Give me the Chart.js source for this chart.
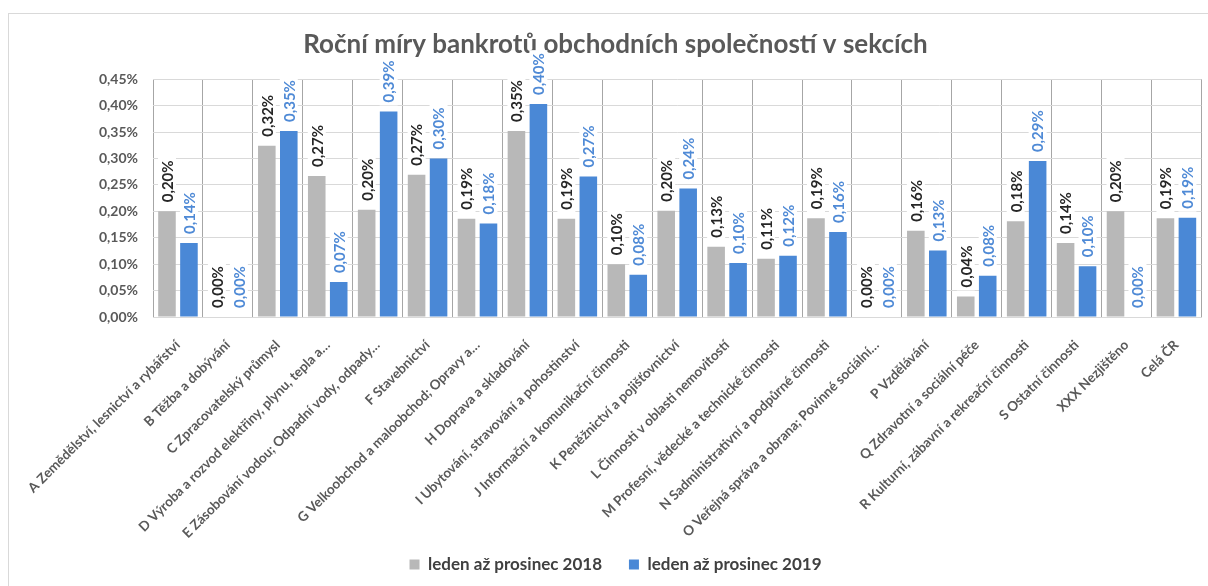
<!DOCTYPE html>
<html>
<head>
<meta charset="utf-8">
<script src="https://cdn.jsdelivr.net/npm/chart.js@4"></script>
<style>
  html, body { margin: 0; padding: 0; background: #fff; overflow: hidden; }
  #frame { position: absolute; left: 8px; top: 13px; width: 1400px; height: 800px; border: 1px solid #d9d9d9; }
  #wrap { position: absolute; left: 0; top: 0; width: 1208px; height: 586px; }
</style>
</head>
<body>
<div id="frame"></div>
<div id="wrap"><canvas id="chartCanvas"></canvas></div>
<script>
// sekce CZ-NACE
var sections = [
  'A Zemědělství, lesnictví a rybářství',
  'B Těžba a dobývání',
  'C Zpracovatelský průmysl',
  'D Výroba a rozvod elektřiny, plynu, tepla a…',
  'E Zásobování vodou; Odpadní vody, odpady…',
  'F Stavebnictví',
  'G Velkoobchod a maloobchod; Opravy a…',
  'H Doprava a skladování',
  'I Ubytování, stravování a pohostinství',
  'J Informační a komunikační činnosti',
  'K Peněžnictví a pojišťovnictví',
  'L Činnosti v oblasti nemovitostí',
  'M Profesní, vědecké a technické činnosti',
  'N Sadministrativní a podpůrné činnosti',
  'O Veřejná správa a obrana; Povinné sociální…',
  'P Vzdělávání',
  'Q Zdravotní a sociální péče',
  'R Kulturní, zábavní a rekreační činnosti',
  'S Ostatní činnosti',
  'XXX Nezjištěno',
  'Celá ČR'
];

// roční míry bankrotů v %
var rate2018 = [0.200, 0.000, 0.324, 0.267, 0.203, 0.269, 0.186, 0.352, 0.186, 0.100, 0.201,
                0.133, 0.110, 0.187, 0.000, 0.163, 0.039, 0.181, 0.140, 0.200, 0.187];
var rate2019 = [0.140, 0.000, 0.352, 0.066, 0.389, 0.300, 0.177, 0.403, 0.266, 0.080, 0.243,
                0.102, 0.116, 0.161, 0.000, 0.126, 0.078, 0.295, 0.096, 0.000, 0.188];

var seriesNames = ['leden až prosinec 2018', 'leden až prosinec 2019'];
var yTicks = [0, 0.05, 0.10, 0.15, 0.20, 0.25, 0.30, 0.35, 0.40, 0.45];

var FONT = 'Lato, "DejaVu Sans", sans-serif';

function pct(v) {
  return v.toFixed(2).replace('.', ',') + '%';
}

// popisky hodnot nad sloupci (otočené o 90°, bílé pozadí)
var valueLabels = {
  id: 'valueLabels',
  afterDatasetsDraw: function(chart) {
    var ctx = chart.ctx;
    var colors = ['#262626', '#4f8ad6'];
    chart.data.datasets.forEach(function(ds, di) {
      var meta = chart.getDatasetMeta(di);
      meta.data.forEach(function(bar, i) {
        var txt = pct(ds.data[i]);
        ctx.save();
        ctx.font = 'bold 15px ' + FONT;
        var w = ctx.measureText(txt).width;
        ctx.translate(bar.x, bar.y - 9);
        ctx.rotate(-Math.PI / 2);
        ctx.fillStyle = '#ffffff';
        ctx.fillRect(-3, -9, w + 6, 18);
        ctx.fillStyle = colors[di];
        ctx.textAlign = 'left';
        ctx.textBaseline = 'middle';
        ctx.fillText(txt, 0, 1);
        ctx.restore();
      });
    });
  }
};

var chartdata = {
  labels: sections,
  datasets: [
    {
      label: seriesNames[0],
      backgroundColor: '#b8b8b8',
      data: rate2018,
      categoryPercentage: 0.88,
      barPercentage: 0.8
    },
    {
      label: seriesNames[1],
      backgroundColor: '#4a88d6',
      data: rate2019,
      categoryPercentage: 0.88,
      barPercentage: 0.8
    }
  ]
};

var ctx = document.getElementById('chartCanvas');

var barGraph = new Chart(ctx, {
  type: 'bar',
  data: chartdata,
  plugins: [valueLabels],
  options: {
    responsive: true,
    maintainAspectRatio: false,
    animation: false,
    layout: { padding: { left: 28, right: 5, top: 14, bottom: 3 } },
    plugins: {
      tooltip: { enabled: false },
      title: {
        display: true,
        text: 'Roční míry bankrotů obchodních společností v sekcích',
        color: '#595959',
        font: { family: FONT, size: 26, weight: 'bold' },
        padding: { top: 15, bottom: 19 }
      },
      legend: {
        position: 'bottom',
        labels: {
          boxWidth: 10,
          boxHeight: 10,
          padding: 10,
          color: '#404040',
          font: { family: FONT, size: 17, weight: 'bold' },
          generateLabels: function(chart) {
            var items = Chart.defaults.plugins.legend.labels.generateLabels(chart);
            items[0].text += '\u2003 ';   // mezera mezi položkami legendy
            return items;
          }
        }
      }
    },
    scales: {
      x: {
        grid: { offset: true, color: '#a6a6a6', drawTicks: false },
        border: { color: '#d9d9d9' },
        ticks: {
          autoSkip: false,
          maxRotation: 45,
          minRotation: 45,
          padding: 20,
          color: '#595959',
          font: { family: FONT, size: 13.5, weight: 'bold' }
        },
        afterFit: function(scale) { scale.height = 229; }
      },
      y: {
        min: 0,
        max: 0.45,
        afterBuildTicks: function(scale) {
          scale.ticks = yTicks.map(function(v) { return { value: v }; });
        },
        grid: { color: '#d9d9d9', drawTicks: false },
        border: { display: false },
        ticks: {
          padding: 15,
          color: '#595959',
          font: { family: FONT, size: 14, weight: 'bold' },
          callback: function(v) { return pct(v); }
        },
        afterFit: function(scale) { scale.width = 125; }
      }
    }
  }
});
</script>
</body>
</html>
